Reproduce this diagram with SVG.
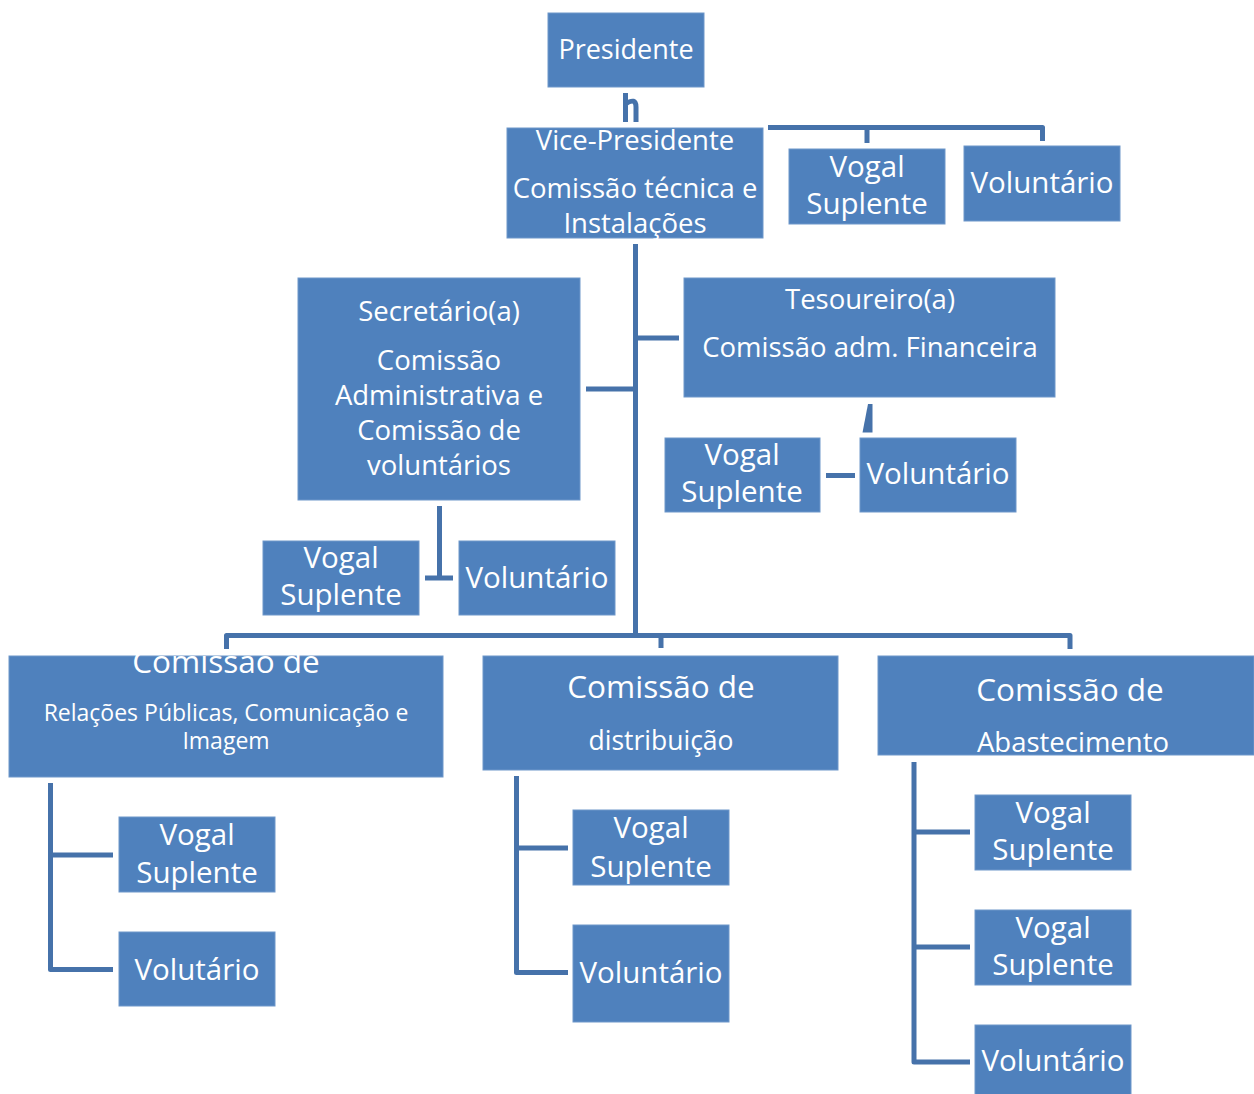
<svg xmlns="http://www.w3.org/2000/svg" width="1254" height="1094" viewBox="0 0 1254 1094">
<style>
.box{fill:#4F81BD;stroke:#6E97CA;stroke-width:1}
.t{fill:#FFFFFF;font-family:"Open Sans","Noto Sans","DejaVu Sans",sans-serif;text-anchor:middle}
.c{fill:none;stroke:#4672AA;stroke-width:5;stroke-linejoin:round}
.f{fill:#4672AA}
</style>
<rect width="1254" height="1094" fill="#FFFFFF"/>
<g id="connectors">
<path class="c" d="M625.5,93 V122 M625.5,104 Q636,97 636,107 V122"/>
<path class="c" stroke-width="6" d="M768,127.5 H1042.5 V141 M867,127.5 V143"/>
<path class="c" d="M635.5,244 V635.5"/>
<path class="c" d="M586,389 H635.5 M635.5,338 H679"/>
<polygon class="f" points="868,404 872.5,404 872.5,432.5 862.5,432.5"/>
<path class="c" d="M826,475.5 H855"/>
<path class="c" d="M439.5,506 V578 M425,578 H453"/>
<path class="c" d="M226.5,649 V635.5 H1070 V649 M661,635.5 V648"/>
<path class="c" d="M50.5,783 V969.5 H113 M50.5,855 H113"/>
<path class="c" d="M516.5,776 V972.5 H568 M516.5,848 H568"/>
<path class="c" d="M914,762 V1062 H970 M914,832 H970 M914,947 H970"/>
</g>
<g id="presidente">
<rect class="box" x="548" y="13" width="156" height="74"/>
<text class="t" x="626" y="59" font-size="27">Presidente</text>
</g>
<g id="vice-presidente">
<rect class="box" x="507" y="128" width="256" height="110"/>
<text class="t" x="635" y="150" font-size="27.5">Vice-Presidente</text>
<text class="t" x="635" y="198" font-size="27.5">Comissão técnica e</text>
<text class="t" x="635" y="233" font-size="27.5">Instalações</text>
</g>
<g id="vogal-top">
<rect class="box" x="789" y="149" width="156" height="75"/>
<text class="t" x="867" y="177" font-size="29.5">Vogal</text>
<text class="t" x="867" y="214" font-size="29.5">Suplente</text>
</g>
<g id="voluntario-top">
<rect class="box" x="964" y="146" width="156" height="75"/>
<text class="t" x="1042" y="193" font-size="29.5">Voluntário</text>
</g>
<g id="secretario">
<rect class="box" x="298" y="278" width="282" height="222"/>
<text class="t" x="439" y="321" font-size="27.5">Secretário(a)</text>
<text class="t" x="439" y="370" font-size="27.5">Comissão</text>
<text class="t" x="439" y="405" font-size="27.5">Administrativa e</text>
<text class="t" x="439" y="440" font-size="27.5">Comissão de</text>
<text class="t" x="439" y="475" font-size="27.5">voluntários</text>
</g>
<g id="tesoureiro">
<rect class="box" x="684" y="278" width="371" height="119"/>
<text class="t" x="870" y="309" font-size="27.5">Tesoureiro(a)</text>
<text class="t" x="870" y="357" font-size="27.5">Comissão adm. Financeira</text>
</g>
<g id="vogal-tesoureiro">
<rect class="box" x="665" y="438" width="155" height="74"/>
<text class="t" x="742" y="465" font-size="29.5">Vogal</text>
<text class="t" x="742" y="502" font-size="29.5">Suplente</text>
</g>
<g id="voluntario-tesoureiro">
<rect class="box" x="860" y="438" width="156" height="74"/>
<text class="t" x="938" y="484" font-size="29.5">Voluntário</text>
</g>
<g id="vogal-secretario">
<rect class="box" x="263" y="541" width="156" height="74"/>
<text class="t" x="341" y="568" font-size="29.5">Vogal</text>
<text class="t" x="341" y="605" font-size="29.5">Suplente</text>
</g>
<g id="voluntario-secretario">
<rect class="box" x="459" y="541" width="156" height="74"/>
<text class="t" x="537" y="588" font-size="29.5">Voluntário</text>
</g>
<g id="comissao-rp">
<rect class="box" x="9" y="656" width="434" height="121"/>
<text class="t" x="226" y="673" font-size="31.5">Comissão de</text>
<text class="t" x="226" y="721" font-size="23">Relações Públicas, Comunicação e</text>
<text class="t" x="226" y="749" font-size="23">Imagem</text>
</g>
<g id="comissao-distribuicao">
<rect class="box" x="483" y="656" width="355" height="114"/>
<text class="t" x="661" y="698" font-size="31.5">Comissão de</text>
<text class="t" x="661" y="750" font-size="26.5">distribuição</text>
</g>
<g id="comissao-abastecimento">
<rect class="box" x="878" y="656" width="376" height="99"/>
<text class="t" x="1070" y="701" font-size="31.5">Comissão de</text>
<text class="t" x="1073" y="752" font-size="27.5">Abastecimento</text>
</g>
<g id="vogal-rp">
<rect class="box" x="119" y="817" width="156" height="75"/>
<text class="t" x="197" y="845" font-size="29.5">Vogal</text>
<text class="t" x="197" y="883" font-size="29.5">Suplente</text>
</g>
<g id="voluntario-rp">
<rect class="box" x="119" y="932" width="156" height="74"/>
<text class="t" x="197" y="980" font-size="29.5">Volutário</text>
</g>
<g id="vogal-distribuicao">
<rect class="box" x="573" y="810" width="156" height="75"/>
<text class="t" x="651" y="838" font-size="29.5">Vogal</text>
<text class="t" x="651" y="877" font-size="29.5">Suplente</text>
</g>
<g id="voluntario-distribuicao">
<rect class="box" x="573" y="925" width="156" height="97"/>
<text class="t" x="651" y="983" font-size="29.5">Voluntário</text>
</g>
<g id="vogal-abastecimento-1">
<rect class="box" x="975" y="795" width="156" height="75"/>
<text class="t" x="1053" y="823" font-size="29.5">Vogal</text>
<text class="t" x="1053" y="860" font-size="29.5">Suplente</text>
</g>
<g id="vogal-abastecimento-2">
<rect class="box" x="975" y="910" width="156" height="75"/>
<text class="t" x="1053" y="938" font-size="29.5">Vogal</text>
<text class="t" x="1053" y="975" font-size="29.5">Suplente</text>
</g>
<g id="voluntario-abastecimento">
<rect class="box" x="975" y="1025" width="156" height="75"/>
<text class="t" x="1053" y="1071" font-size="29.5">Voluntário</text>
</g>
</svg>
